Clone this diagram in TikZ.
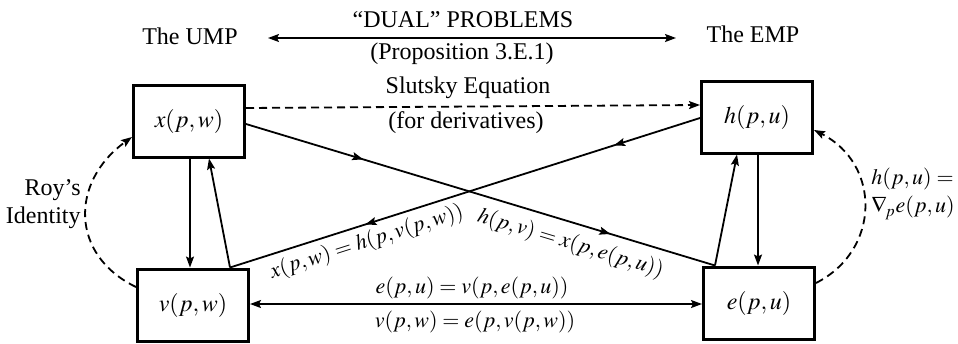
\documentclass[tikz,border=0pt]{standalone}
\usepackage{mathptmx}
\usepackage[no-math]{fontspec}
\setmainfont{Liberation Serif}
\usetikzlibrary{arrows.meta,decorations.markings,calc}
\begin{document}
\begin{tikzpicture}[x=0.5pt,y=-0.5pt,
  font=\fontsize{12}{14}\selectfont,
  eqfont/.style={font=\fontsize{11}{14}\selectfont},
  box/.style={draw,line width=1.5pt,minimum width=55.5pt,minimum height=36pt,inner sep=0pt},
  conn/.style={line width=0.9pt},
  tip/.style={-{Stealth[length=5.5pt,width=4pt,inset=1pt]}},
  dtip/.style={{Stealth[length=5.5pt,width=4pt,inset=1pt]}-{Stealth[length=5.5pt,width=4pt,inset=1pt]}},
  dashline/.style={dash pattern=on 4pt off 2.5pt},
  midarrows/.style 2 args={postaction={decorate},decoration={markings,
     mark=at position #1 with {\arrow{Stealth[length=5.5pt,width=4pt,inset=1pt]}},
     mark=at position #2 with {\arrow{Stealth[length=5.5pt,width=4pt,inset=1pt]}}}}
]
\useasboundingbox (0,0) rectangle (958,343);

% boxes
\node[box] (x) at (189,121) {$x(p,w)$};
\node[box] (h) at (757,117) {$h(p,u)$};
\node[box] (v) at (193,305) {$v(p,w)$};
\node[box] (e) at (759,303) {$e(p,u)$};

% titles
\node (ump) at (190,36) {The UMP};
\node (emp) at (753,34) {The EMP};
\node (dual) at (463,20) {“DUAL” PROBLEMS};
\node (prop) at (462,54) {(Proposition 3.E.1)};
\coordinate (ta) at (268,38);
\coordinate (tb) at (676,38);
\draw[conn,dtip] (ta) -- (tb);

% Slutsky
\draw[conn,dashline,tip] ($(x.east)+(0,-13)$) -- ($(h.west)+(0,-12)$);
\node (slu) at (468,88) {Slutsky Equation};
\node (der) at (466,123) {(for derivatives)};

% diagonal anchor points
\coordinate (xr) at ($(x.east)+(0,3)$);
\coordinate (etl) at ($(e.north west)+(13,0)$);
\coordinate (hl) at ($(h.west)+(0,1)$);
\coordinate (vtr) at ($(v.north east)+(-20,0)$);

\draw[conn,midarrows={0.25}{0.777}] (xr) -- (etl)
  node[eqfont,pos=0.705,sloped,below,inner sep=4.5pt] {$h(p,v) = x(p,e(p,u))$};
\draw[conn,midarrows={0.183}{0.712}] (hl) -- (vtr);
\path (vtr) -- (hl) node[eqfont,pos=0.28,sloped,below,inner sep=3pt] {$x(p,w) = h(p,v(p,w))$};

% verticals left
\draw[conn,tip] ($(x.south)+(1,0)$) -- ($(v.north)+(-3,0)$);
\draw[conn,tip] (vtr) -- ($(x.south)+(20,0)$);
% verticals right
\draw[conn,tip] (etl) -- ($(h.south)+(-20,0)$);
\draw[conn,tip] ($(h.south)+(1,0)$) -- ($(e.north)+(-1,0)$);

% bottom
\draw[conn,dtip] ($(v.east)+(0,-1)$) -- ($(e.west)+(0,1)$);
\node[eqfont] (eq1) at (472,288) {$e(p,u) = v(p,e(p,u))$};
\node[eqfont] (eq2) at (475,322) {$v(p,w) = e(p,v(p,w))$};

% Roy's identity
\draw[conn,dashline,tip] ($(v.west)+(0,-18)$) .. controls (70,255) and (70,182) .. ($(x.west)+(0,16)$);
\node[align=right,anchor=east,inner sep=2pt] (roy) at (85,204) {Roy’s\\Identity};

% Shephard
\draw[conn,dashline,tip] ($(e.east)+(0,-20)$) .. controls (881,250) and (881,164) .. ($(h.east)+(0,13)$);
\node[eqfont,align=left,anchor=west,inner sep=1pt] (shep) at (869,194) {$h(p,u) =$\\$\nabla_{\!p}e(p,u)$};
\end{tikzpicture}
\end{document}
